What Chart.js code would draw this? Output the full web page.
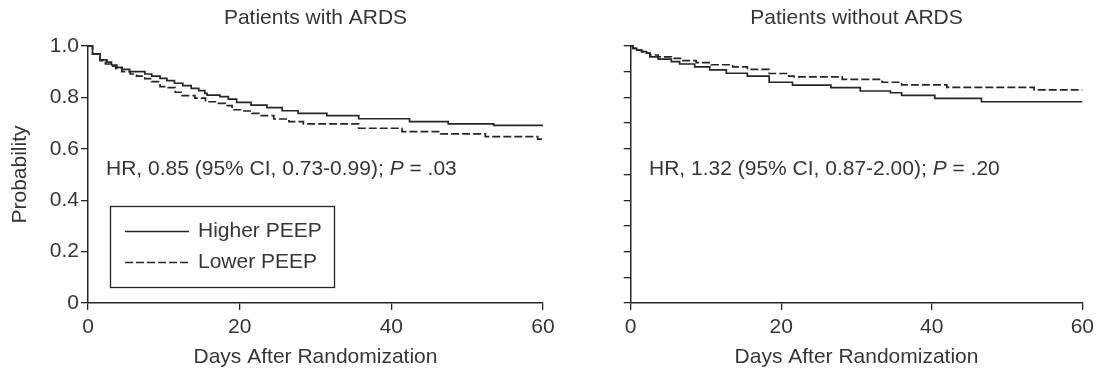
<!DOCTYPE html>
<html>
<head>
<meta charset="utf-8">
<script src="https://cdn.jsdelivr.net/npm/chart.js@4.4.1/dist/chart.umd.min.js"></script>
<style>
  body { margin: 0; background: #fff; width: 1099px; height: 370px; overflow: hidden; position: relative; }
  canvas { position: absolute; top: 0; }
  #cL { left: 0; }
  #cR { left: 560px; }
</style>
</head>
<body>
<canvas id="cL" width="560" height="370"></canvas>
<canvas id="cR" width="539" height="370"></canvas>
<script>
/* ── Data ──────────────────────────────────────────────── */
const xTicks = [0, 20, 40, 60];
const yTicks = [0, 0.2, 0.4, 0.6, 0.8, 1.0];
const yTickLabels = ['0', '0.2', '0.4', '0.6', '0.8', '1.0'];
const yMinorTicks = [0.1, 0.3, 0.5, 0.7, 0.9];
const seriesNames = ['Higher PEEP', 'Lower PEEP'];
const panelTitles = ['Patients with ARDS', 'Patients without ARDS'];
const hrTexts = ['HR, 0.85 (95% CI, 0.73-0.99); ', 'HR, 1.32 (95% CI, 0.87-2.00); '];
const pValues = ['.03', '.20'];

// with ARDS
const ardsHighDays = [0, 0.6, 1.6, 2.5, 3.1, 3.8, 4.5, 5.5, 7.5, 8.4, 9.5, 10.4, 11.4, 12.5, 13.6, 14.6, 15.4, 15.7, 17.4, 18.5, 19.6, 21.5, 23.6, 25.6, 27.7, 31.5, 35.7, 42.4, 47.5, 53.5, 60];
const ardsHighProb = [1.0, 0.969, 0.946, 0.937, 0.926, 0.917, 0.909, 0.900, 0.891, 0.883, 0.874, 0.865, 0.855, 0.846, 0.835, 0.826, 0.816, 0.809, 0.803, 0.793, 0.781, 0.770, 0.760, 0.748, 0.738, 0.729, 0.717, 0.706, 0.697, 0.691, 0.691];
const ardsLowDays = [0, 0.6, 1.6, 2.3, 3.0, 3.65, 4.45, 5.55, 6.4, 7.5, 8.4, 9.5, 10.4, 11.5, 12.4, 14.1, 15.5, 17.2, 18.1, 19.0, 20.3, 21.6, 22.7, 24.5, 26.5, 28.4, 35.7, 41.4, 46.5, 52.4, 59.3, 60];
const ardsLowProb = [1.0, 0.969, 0.943, 0.930, 0.922, 0.913, 0.900, 0.891, 0.883, 0.873, 0.861, 0.842, 0.838, 0.820, 0.807, 0.797, 0.783, 0.777, 0.768, 0.752, 0.747, 0.738, 0.729, 0.716, 0.706, 0.697, 0.680, 0.667, 0.658, 0.647, 0.638, 0.638];

// without ARDS
const noArdsHighDays = [0, 0.3, 0.8, 1.45, 2.1, 2.55, 3.65, 5.4, 6.5, 8.5, 10.5, 12.7, 15.5, 18.4, 21.5, 26.6, 30.5, 34.5, 36.0, 40.4, 46.6, 60];
const noArdsHighProb = [1.0, 0.991, 0.984, 0.978, 0.972, 0.958, 0.949, 0.939, 0.930, 0.919, 0.907, 0.894, 0.883, 0.859, 0.848, 0.838, 0.825, 0.818, 0.808, 0.796, 0.783, 0.783];
const noArdsLowDays = [0, 0.3, 0.8, 1.45, 2.1, 2.55, 3.65, 5.4, 6.95, 8.7, 10.7, 13.55, 15.5, 18.4, 21.0, 21.7, 28.1, 33.4, 36.0, 42.0, 53.6, 60];
const noArdsLowProb = [1.0, 0.991, 0.984, 0.978, 0.972, 0.965, 0.958, 0.952, 0.943, 0.935, 0.927, 0.919, 0.909, 0.893, 0.883, 0.880, 0.870, 0.859, 0.849, 0.839, 0.829, 0.829];

/* ── Styles ────────────────────────────────────────────── */
const FONT = '"Liberation Sans", Arial, Helvetica, sans-serif';
const INK = '#262626';
const TXT = '#363636';
const DASH = [8, 3];

const toPoints = (xs, ys) => xs.map((x, i) => ({ x: x, y: ys[i] }));

// titles, HR annotation and (left only) legend box
const panelText = {
  id: 'panelText',
  afterDraw(chart) {
    const ctx = chart.ctx, area = chart.chartArea;
    const p = chart.options.plugins.panelText;
    ctx.save();
    ctx.fillStyle = TXT;
    ctx.font = '21px ' + FONT;
    ctx.textAlign = 'center';
    ctx.textBaseline = 'middle';
    ctx.fillText(panelTitles[p.idx], (area.left + area.right) / 2, 18);

    // HR annotation with italic P
    ctx.textAlign = 'left';
    ctx.textBaseline = 'alphabetic';
    let x = p.hrX;
    const base = 175;
    ctx.font = '21px ' + FONT;
    ctx.fillText(hrTexts[p.idx], x, base);
    x += ctx.measureText(hrTexts[p.idx]).width;
    ctx.font = 'italic 21px ' + FONT;
    ctx.fillText('P', x, base);
    x += ctx.measureText('P').width;
    ctx.font = '21px ' + FONT;
    ctx.fillText(' = ' + pValues[p.idx], x, base);

    if (p.legend) {
      ctx.strokeStyle = INK;
      ctx.lineWidth = 1.3;
      ctx.strokeRect(110.5, 206.5, 224, 81);
      chart.data.datasets.forEach((ds, i) => {
        const ly = 231.5 + i * 31;
        ctx.lineWidth = 1.6;
        ctx.setLineDash(ds.borderDash || []);
        ctx.beginPath();
        ctx.moveTo(125, ly);
        ctx.lineTo(189, ly);
        ctx.stroke();
        ctx.setLineDash([]);
        ctx.textBaseline = 'middle';
        ctx.fillText(ds.label, 198, ly);
      });
    }
    ctx.restore();
  }
};

function makeChart(id, idx, highX, highY, lowX, lowY) {
  const isLeft = idx === 0;
  return new Chart(document.getElementById(id), {
    type: 'line',
    data: {
      datasets: [
        { label: seriesNames[0], data: toPoints(highX, highY), borderColor: INK, borderWidth: 1.7,
          stepped: true, pointRadius: 0, fill: false, clip: 4 },
        { label: seriesNames[1], data: toPoints(lowX, lowY), borderColor: INK, borderWidth: 1.7,
          borderDash: DASH, stepped: true, pointRadius: 0, fill: false, clip: 4 }
      ]
    },
    options: {
      responsive: false,
      animation: false,
      layout: { padding: { top: 46, right: isLeft ? 17 : 14, bottom: 0, left: 0 } },
      plugins: {
        legend: { display: false },
        tooltip: { enabled: false },
        panelText: { idx: idx, legend: isLeft, hrX: isLeft ? 106 : 89 }
      },
      scales: {
        x: {
          type: 'linear', min: 0, max: 60,
          afterBuildTicks: s => { s.ticks = xTicks.map(v => ({ value: v })); },
          afterFit: s => { s.height = 67; },
          grid: { drawOnChartArea: false, drawTicks: true, tickLength: 7, color: INK, lineWidth: 1.3 },
          border: { color: INK, width: 1.5 },
          ticks: { color: TXT, font: { size: 21, family: FONT }, padding: 5, maxRotation: 0,
                   callback: v => String(v) },
          title: { display: true, text: 'Days After Randomization', color: TXT,
                   font: { size: 21, family: FONT }, padding: { top: 0, bottom: 0 } }
        },
        y: {
          min: 0, max: 1,
          afterBuildTicks: s => {
            s.ticks = yTicks.concat(yMinorTicks).sort((a, b) => a - b).map(v => ({ value: v }));
          },
          afterFit: s => { s.width = isLeft ? 88 : 70.7; },
          grid: { drawOnChartArea: false, drawTicks: true, tickLength: 7, color: INK, lineWidth: 1.3 },
          border: { color: INK, width: 1.5 },
          ticks: {
            display: isLeft, color: TXT, font: { size: 21, family: FONT }, padding: 2,
            callback: v => {
              const i = yTicks.findIndex(t => Math.abs(t - v) < 1e-6);
              return i < 0 ? '' : yTickLabels[i];
            }
          },
          title: { display: isLeft, text: 'Probability', color: TXT,
                   font: { size: 21, family: FONT }, padding: { top: 8, bottom: 0 } }
        }
      }
    },
    plugins: [panelText]
  });
}

makeChart('cL', 0, ardsHighDays, ardsHighProb, ardsLowDays, ardsLowProb);
makeChart('cR', 1, noArdsHighDays, noArdsHighProb, noArdsLowDays, noArdsLowProb);
</script>
</body>
</html>
